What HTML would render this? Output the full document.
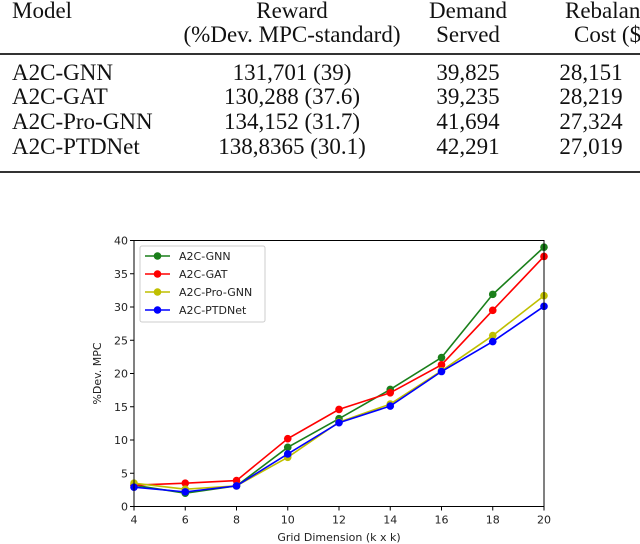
<!DOCTYPE html>
<html><head><meta charset="utf-8"><style>
body{margin:0;width:640px;height:544px;background:#fff;overflow:hidden;position:relative;font-family:"Liberation Serif",serif;}
.t{position:absolute;font-size:23px;color:#111;white-space:nowrap;line-height:1}
.rule{position:absolute;left:0;width:640px;background:#333}
svg{position:absolute;left:0;top:0}
</style></head><body>
<div>
<div class="rule" style="top:53px;height:2px"></div>
<div class="rule" style="top:171px;height:2px"></div>
<div class="t" style="left:12px;top:-1px">Model</div>
<div class="t" style="left:172px;top:-1px;width:240px;text-align:center">Reward<br><span style="line-height:26px">(%Dev. MPC-standard)</span></div>
<div class="t" style="left:418px;top:-1px;width:100px;text-align:center">Demand<br><span style="line-height:26px">Served</span></div>
<div class="t" style="left:565px;top:-1px;width:75px;overflow:hidden">Rebalancing<br><span style="line-height:26px;padding-left:9px">Cost ($)</span></div>
<div class="t" style="left:12px;top:61px">A2C-GNN</div>
<div class="t" style="left:12px;top:85px">A2C-GAT</div>
<div class="t" style="left:12px;top:110px">A2C-Pro-GNN</div>
<div class="t" style="left:12px;top:135px">A2C-PTDNet</div>
<div class="t" style="left:172px;top:61px;width:240px;text-align:center">131,701 (39)</div>
<div class="t" style="left:172px;top:85px;width:240px;text-align:center">130,288 (37.6)</div>
<div class="t" style="left:172px;top:110px;width:240px;text-align:center">134,152 (31.7)</div>
<div class="t" style="left:172px;top:135px;width:240px;text-align:center">138,8365 (30.1)</div>
<div class="t" style="left:418px;top:61px;width:100px;text-align:center">39,825</div>
<div class="t" style="left:418px;top:85px;width:100px;text-align:center">39,235</div>
<div class="t" style="left:418px;top:110px;width:100px;text-align:center">41,694</div>
<div class="t" style="left:418px;top:135px;width:100px;text-align:center">42,291</div>
<div class="t" style="left:545px;top:61px;width:92px;text-align:center">28,151</div>
<div class="t" style="left:545px;top:85px;width:92px;text-align:center">28,219</div>
<div class="t" style="left:545px;top:110px;width:92px;text-align:center">27,324</div>
<div class="t" style="left:545px;top:135px;width:92px;text-align:center">27,019</div>
</div>
<svg id="chart" width="640" height="544"></svg>
<script>
const categories=[4,6,8,10,12,14,16,18,20];
const seriesNames=["A2C-GNN","A2C-GAT","A2C-Pro-GNN","A2C-PTDNet"];
const seriesColors=["#1a7f1a","#ff0000","#bfbf00","#0000ff"];
const gnnValues=[3.2,2.0,3.1,8.9,13.2,17.6,22.4,31.9,39];
const gatValues=[3.2,3.5,3.9,10.2,14.6,17.1,21.3,29.5,37.6];
const proValues=[3.5,2.6,3.1,7.4,12.7,15.4,20.4,25.7,31.7];
const ptdValues=[2.9,2.2,3.1,7.9,12.6,15.1,20.3,24.8,30.1];
const yTicks=[0,5,10,15,20,25,30,35,40];
const xTicks=[4,6,8,10,12,14,16,18,20];
const svg=document.getElementById('chart');
const NS="http://www.w3.org/2000/svg";
const L=134,R=544,T=240.5,B=506.5;
const xs=v=>L+(v-4)/16*(R-L);
const ys=v=>B-v/40*(B-T);
function mk(tag,attrs){const e=document.createElementNS(NS,tag);for(const k in attrs)e.setAttribute(k,attrs[k]);svg.appendChild(e);return e;}
const F='font-family:"DejaVu Sans",sans-serif;font-size:11px;fill:#222';
yTicks.forEach(v=>{
 const l=mk('line',{x1:L-4,x2:L,y1:ys(v),y2:ys(v),stroke:'#000'});
 
 
 const t=mk('text',{x:L-6,y:ys(v)+4,'text-anchor':'end',style:F});t.textContent=v;
 
 
});
xTicks.forEach(v=>{
 const l=mk('line',{x1:xs(v),x2:xs(v),y1:B,y2:B+4,stroke:'#000'});
 
 
 const t=mk('text',{x:xs(v),y:B+17,'text-anchor':'middle',style:F});t.textContent=v;
 
 
});
const xt=mk('text',{x:(L+R)/2,y:541,'text-anchor':'middle',style:F});xt.textContent='Grid Dimension (k x k)';


const yt=mk('text',{x:0,y:0,'text-anchor':'middle',style:F,transform:`translate(${L-33},${(T+B)/2}) rotate(-90)`});yt.textContent='%Dev. MPC';


[gnnValues,gatValues,proValues,ptdValues].forEach((vals,i)=>{
 const p=mk('polyline',{points:vals.map((v,j)=>xs(categories[j])+','+ys(v)).join(' '),fill:'none',stroke:seriesColors[i],'stroke-width':1.6});
 
 
 vals.forEach((v,j)=>{
  const c=mk('circle',{cx:xs(categories[j]),cy:ys(v),r:3.8,fill:seriesColors[i]});
  
  
 });
});
const frame=mk('rect',{x:L,y:T,width:R-L,height:B-T,fill:'none',stroke:'#000','stroke-width':1});


const lg=mk('rect',{x:140,y:246,width:125,height:76,fill:'#fff','fill-opacity':0.8,stroke:'#ccc',rx:2});


seriesNames.forEach((n,i)=>{
 const y=256+i*18;
 const l=mk('line',{x1:145,x2:170,y1:y,y2:y,stroke:seriesColors[i],'stroke-width':1.6});
 
 
 const c=mk('circle',{cx:157.5,cy:y,r:3.8,fill:seriesColors[i]});
 
 
 const t=mk('text',{x:179,y:y+4,style:F});t.textContent=n;
 
 
});
</script>
</body></html>
